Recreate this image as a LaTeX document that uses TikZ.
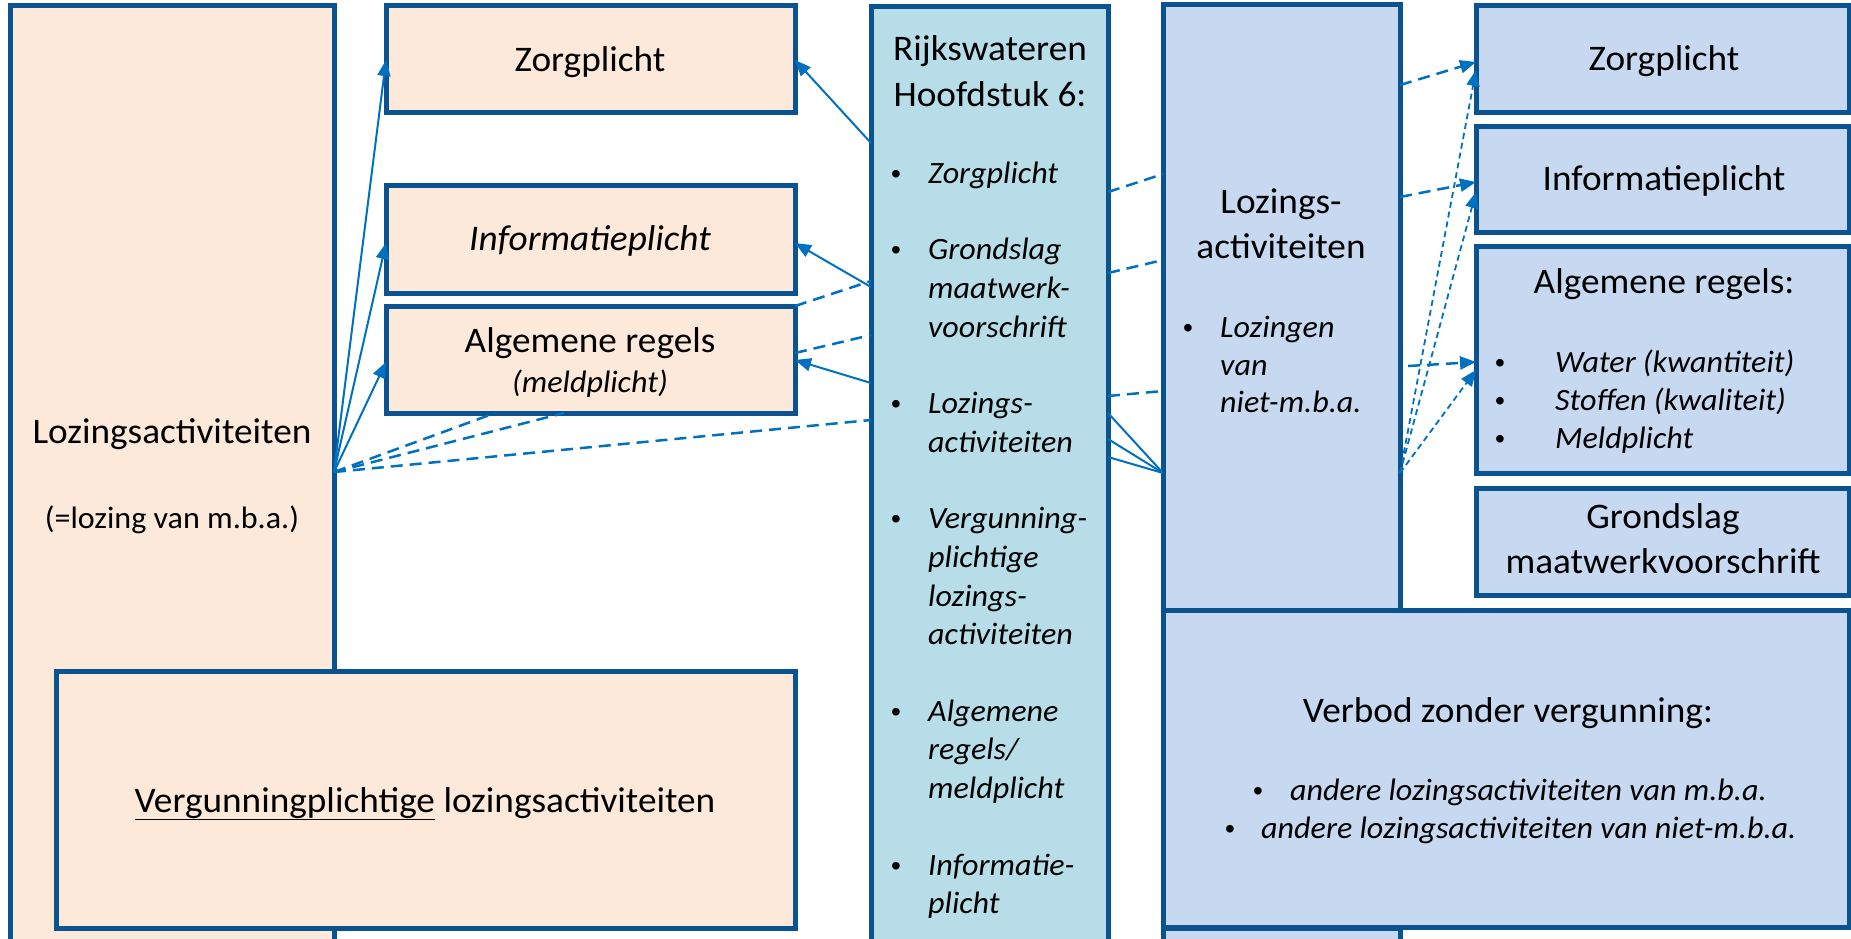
\documentclass[tikz,border=0pt]{standalone}
\usepackage{fontspec}
\setmainfont[FakeStretch=1.035]{Carlito}
\newfontfamily\bulfont{Liberation Sans}
\usetikzlibrary{arrows.meta,calc}
\definecolor{peach}{HTML}{FCE9DA}
\definecolor{aqua}{HTML}{B7DEE8}
\definecolor{lblue}{HTML}{C6D9F0}
\definecolor{bord}{HTML}{0B5390}
\definecolor{arr}{HTML}{0070C0}
\begin{document}
\begin{tikzpicture}[x=1pt,y=-1pt,
  box/.style={draw=bord, line width=5pt, rectangle, inner sep=0pt, outer sep=0pt, anchor=north west},
  big/.style={font=\fontsize{36}{44}\selectfont, anchor=base, inner sep=0pt},
  bigit/.style={font=\fontsize{36}{44}\selectfont\itshape, anchor=base, inner sep=0pt},
  smallc/.style={font=\fontsize{31}{38}\selectfont\itshape, anchor=base, inner sep=0pt},
  smallup/.style={font=\fontsize{31}{38}\selectfont, anchor=base, inner sep=0pt},
  itl/.style={font=\fontsize{31}{38}\selectfont\itshape, anchor=base west, inner sep=0pt},
  bul/.style={font=\bulfont\fontsize{28}{34}\selectfont, anchor=base, inner sep=0pt},
  conn/.style={draw=arr, line width=2pt},
  dconn/.style={draw=arr, line width=2.5pt, dash pattern=on 12pt off 7pt},
  fconn/.style={draw=arr, line width=1.8pt, dash pattern=on 6pt off 4pt},
  tip/.style={-{Triangle[length=16pt,width=13pt]}}
]
\useasboundingbox (0,0) rectangle (1851,938);
\clip (0,0) rectangle (1851,938);

% ---- boxes
\node[box, fill=peach, minimum width=324pt, minimum height=960pt] (LB) at (10,5) {};
\node[box, fill=peach, minimum width=409pt, minimum height=107pt] (ZL) at (386,5) {};
\node[box, fill=peach, minimum width=409pt, minimum height=108pt] (IL) at (386,185) {};
\node[box, fill=peach, minimum width=409pt, minimum height=107pt] (AL) at (386,306) {};
\node[box, fill=peach, minimum width=739pt, minimum height=257pt] (VL) at (56,671) {};
\node[box, fill=aqua, minimum width=237pt, minimum height=960pt] (RW) at (871,6) {};
\node[box, fill=lblue, minimum width=237pt, minimum height=606pt] (ML) at (1163,4) {};
\node[box, fill=lblue, minimum width=237pt, minimum height=40pt] (BB) at (1163,928) {};
\node[box, fill=lblue, minimum width=686pt, minimum height=317pt] (VR) at (1163,610) {};
\node[box, fill=lblue, minimum width=373pt, minimum height=107pt] (ZR) at (1476,5) {};
\node[box, fill=lblue, minimum width=373pt, minimum height=106pt] (IR) at (1476,126) {};
\node[box, fill=lblue, minimum width=373pt, minimum height=227pt] (AR) at (1476,246) {};
\node[box, fill=lblue, minimum width=373pt, minimum height=107pt] (GR) at (1476,488) {};

% ---- texts left
\node[big] (tZL) at (590,71) {Zorgplicht};
\node[bigit] (tIL) at (590,250) {Informatieplicht};
\node[big] (tAL1) at (590,352) {Algemene regels};
\node[smallc] (tAL2) at (590,392) {(meldplicht)};
\node[big] (tLB1) at (172,443) {Lozingsactiviteiten};
\node[smallup] (tLB2) at (172,528) {(=lozing van m.b.a.)};
\node[big] (tVL) at (425,812) {\underline{Vergunningplichtige} lozingsactiviteiten};

% ---- Rijkswateren column
\node[big] (tRW1) at (990,60) {Rijkswateren};
\node[big] (tRW2) at (990,106) {Hoofdstuk 6:};
\foreach \y/\t [count=\i] in {183/Zorgplicht, 259/Grondslag, 298/maatwerk-, 337/voorschrift,
  413/Lozings-, 452/activiteiten, 528/Vergunning-, 567/plichtige, 606/lozings-, 644/activiteiten,
  721/Algemene, 759/regels\slash, 798/meldplicht, 875/Informatie-, 913/plicht}
  \node[itl] (rw\i) at (928,\y) {\t};
\foreach \y [count=\i] in {183,259,413,528,721,875}
  \node[bul] (rwb\i) at (896,\y) {\textbullet};

% ---- middle column
\node[big] (tML1) at (1281,213) {Lozings-};
\node[big] (tML2) at (1281,258) {activiteiten};
\node[bul] (mlb) at (1188,337) {\textbullet};
\node[itl] (ml1) at (1220,337) {Lozingen};
\node[itl] (ml2) at (1220,375) {van};
\node[itl] (ml3) at (1220,412) {niet-m.b.a.};

% ---- right column
\node[big] (tZR) at (1664,70) {Zorgplicht};
\node[big] (tIR) at (1664,190) {Informatieplicht};
\node[big] (tAR) at (1664,293) {Algemene regels:};
\node[bul] (arb1) at (1500,372) {\textbullet};
\node[bul] (arb2) at (1500,410) {\textbullet};
\node[bul] (arb3) at (1500,448) {\textbullet};
\node[itl] (ar1) at (1555,372) {Water (kwantiteit)};
\node[itl] (ar2) at (1555,410) {Stoffen (kwaliteit)};
\node[itl] (ar3) at (1555,448) {Meldplicht};
\node[big] (tGR1) at (1663,528) {Grondslag};
\node[big] (tGR2) at (1663,573) {maatwerkvoorschrift};
\node[big] (tVR) at (1508,722) {Verbod zonder vergunning:};
\node[bul] (vrb1) at (1258,800) {\textbullet};
\node[itl] (vr1) at (1290,800) {andere lozingsactiviteiten van m.b.a.};
\node[bul] (vrb2) at (1230,838) {\textbullet};
\node[itl] (vr2) at (1261,838) {andere lozingsactiviteiten van niet-m.b.a.};

% ---- connector points
\coordinate (p0) at ($(LB.north east)+(0,467)$);
\coordinate (q0) at ($(ML.north west)+(0,469)$);
\coordinate (r0) at ($(ML.north east)+(0,469)$);
\coordinate (e3s) at ($(ML.north east)+(8,362)$);

% ---- left connectors
\draw[conn,tip] (p0) -- ($(ZL.north west)+(0,55)$);
\draw[conn,tip] (p0) -- ($(IL.north west)+(0,58)$);
\draw[conn,tip] (p0) -- ($(AL.north west)+(0,56)$);
\draw[conn,tip] ($(RW.north west)+(0,137)$) -- ($(ZL.north east)+(0,55)$);
\draw[conn,tip] ($(RW.north west)+(0,281)$) -- ($(IL.north east)+(0,58)$);
\draw[conn,tip] ($(RW.north west)+(0,377)$) -- ($(AL.north east)+(0,54)$);
\draw[dconn] (AL.north east) -- ($(RW.north west)+(0,275)$);
\draw[dconn] ($(AL.north east)+(0,47)$) -- ($(RW.north west)+(0,329)$);
\draw[dconn] (p0) -- ($(AL.south west)+(109,0)$);
\draw[dconn] (p0) -- ($(AL.south west)+(178,0)$);
\draw[dconn] (p0) -- ($(RW.north west)+(0,414)$);

% ---- middle connectors
\draw[dconn] ($(RW.north east)+(0,186)$) -- ($(ML.north west)+(0,170)$);
\draw[dconn] ($(RW.north east)+(0,267)$) -- ($(ML.north west)+(0,256)$);
\draw[dconn] ($(RW.north east)+(0,390)$) -- ($(ML.north west)+(0,387)$);
\draw[conn] ($(RW.north east)+(0,407)$) -- (q0);
\draw[conn] ($(RW.north east)+(0,433)$) -- (q0);
\draw[conn] ($(RW.north east)+(0,451)$) -- (q0);

% ---- right connectors
\draw[dconn,tip] ($(ML.north east)+(0,81)$) -- ($(ZR.north west)+(0,57)$);
\draw[dconn,tip] ($(ML.north east)+(0,193)$) -- ($(IR.north west)+(0,56)$);
\draw[dconn,tip] (e3s) -- ($(AR.north west)+(0,116)$);
\draw[fconn,tip] (r0) -- ($(ZR.north west)+(0,65)$);
\draw[fconn,tip] (r0) -- ($(IR.north west)+(0,66)$);
\draw[fconn,tip] (r0) -- ($(AR.north west)+(0,124)$);
\end{tikzpicture}
\end{document}
